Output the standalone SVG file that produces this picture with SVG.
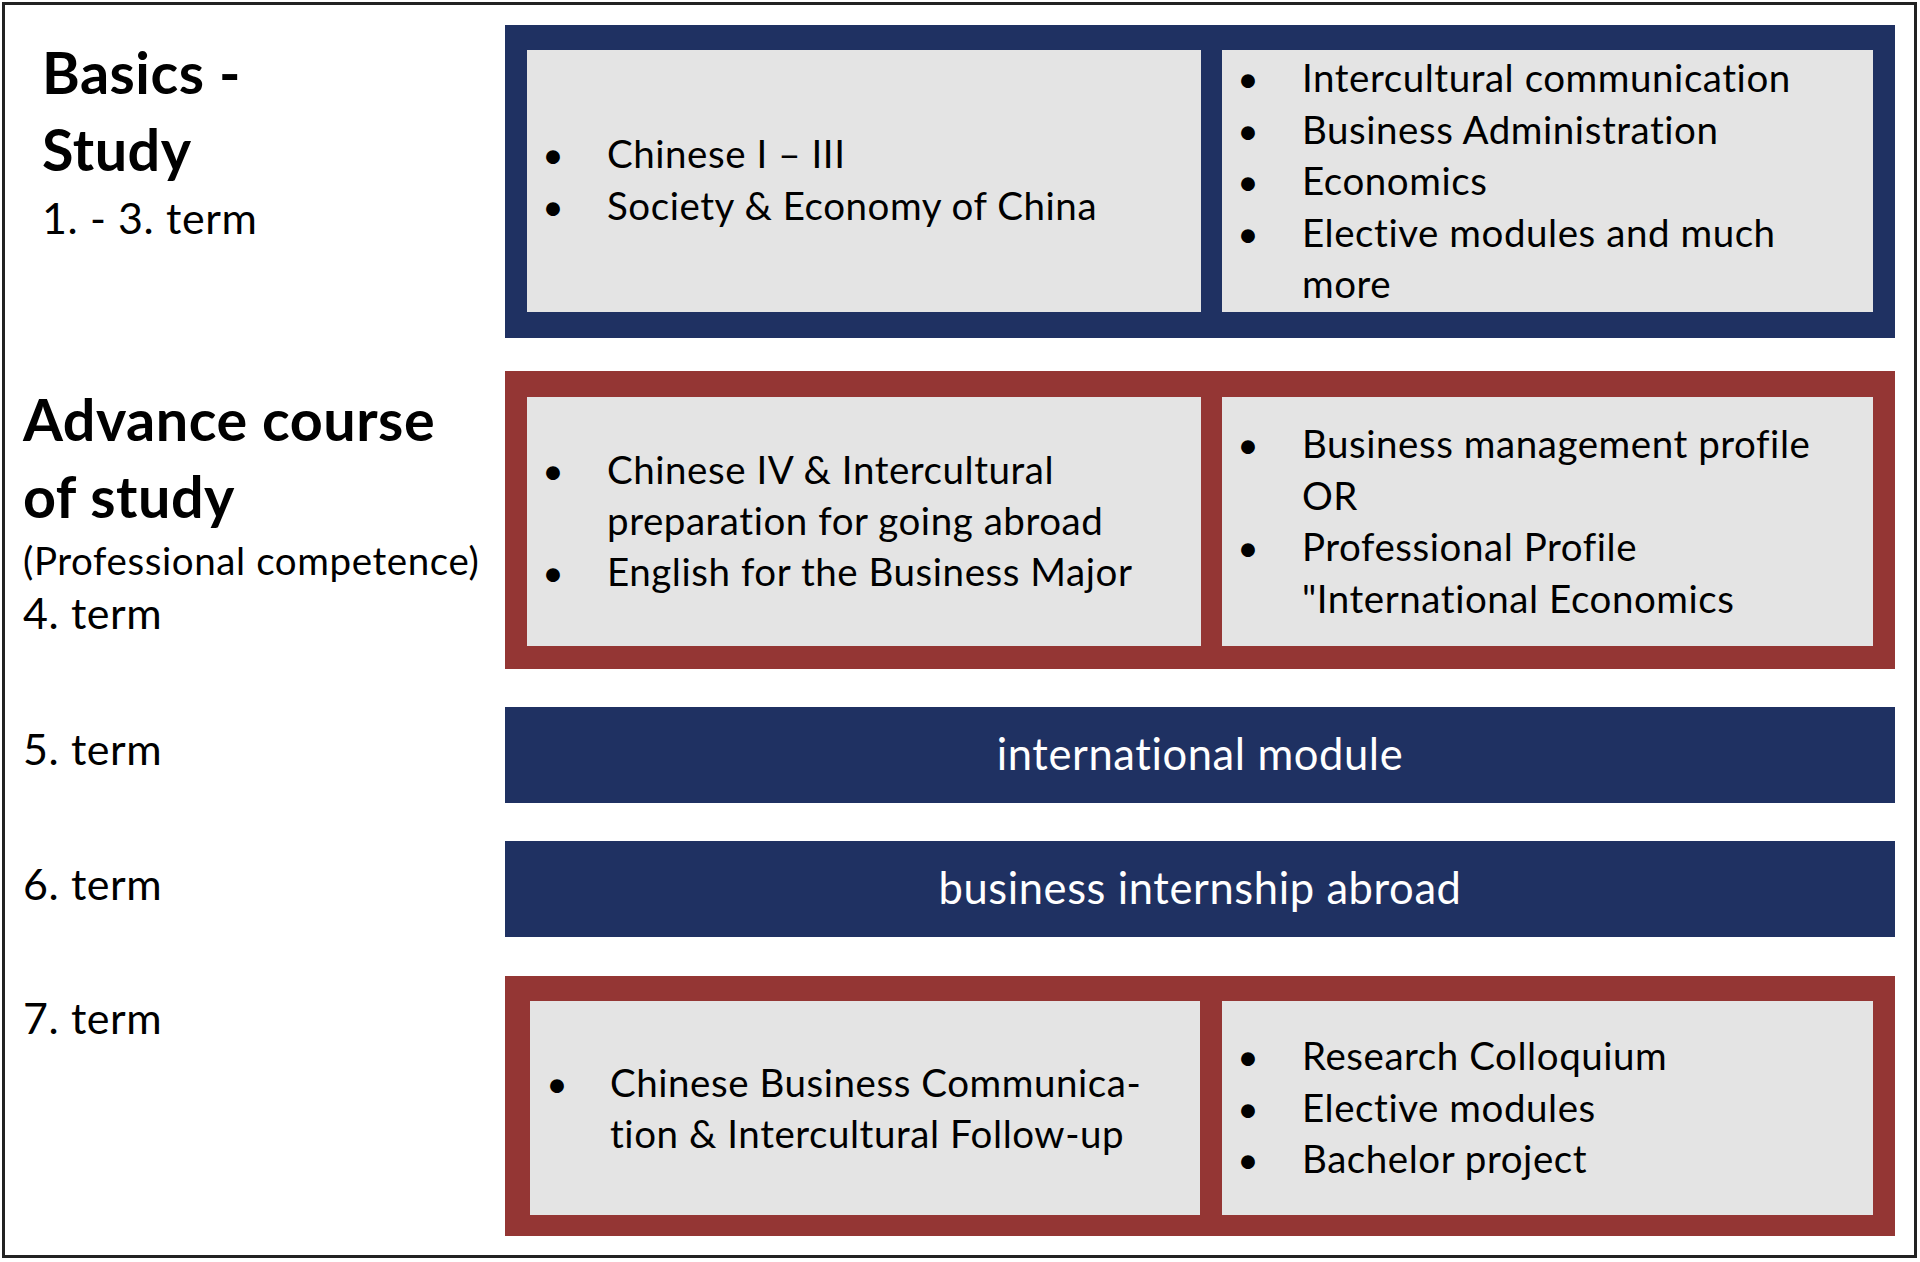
<svg xmlns="http://www.w3.org/2000/svg" width="1920" height="1262" viewBox="0 0 1920 1262">
<style>
.t{font-family:Lato,"Open Sans","Liberation Sans",sans-serif;fill:#000;font-variant-ligatures:none;font-feature-settings:"liga" 0,"clig" 0}
.body{font-size:38.5px;letter-spacing:0.55px}
.title{font-size:57.5px;font-weight:bold;letter-spacing:0.5px}
.term{font-size:43px;letter-spacing:0.6px}
.sub{font-size:38.5px;letter-spacing:0.6px}
.bar{font-size:43.5px;fill:#fff;text-anchor:middle;letter-spacing:0.6px}
.bul{font-size:37px;text-anchor:middle}
.blue{fill:#1F3162}
.red{fill:#943634}
.grey{fill:#E4E4E4}
</style>
<rect x="0" y="0" width="1920" height="1262" fill="#fff"/>
<rect x="3.5" y="3.5" width="1912" height="1253" fill="none" stroke="#222" stroke-width="3"/>

<g id="labels">
  <g id="label-basics">
    <text class="t title" x="42" y="94">Basics -</text>
    <text class="t title" x="42" y="171">Study</text>
    <text class="t term" x="42" y="234">1. - 3. term</text>
  </g>
  <g id="label-advance">
    <text class="t title" x="23" y="441">Advance course</text>
    <text class="t title" x="23" y="518">of study</text>
    <text class="t sub" x="23" y="575">(Professional competence)</text>
    <text class="t term" x="23" y="629">4. term</text>
  </g>
  <g id="label-term5"><text class="t term" x="23" y="765">5. term</text></g>
  <g id="label-term6"><text class="t term" x="23" y="900">6. term</text></g>
  <g id="label-term7"><text class="t term" x="23" y="1034">7. term</text></g>
</g>

<g id="block-basics">
  <rect class="blue" x="505" y="25" width="1390" height="313"/>
  <rect class="grey" x="527" y="50" width="674" height="262"/>
  <rect class="grey" x="1222" y="50" width="651" height="262"/>
  <text class="t bul" x="553" y="168">•</text>
  <text class="t body" x="607" y="168">Chinese I – III</text>
  <text class="t bul" x="553" y="220">•</text>
  <text class="t body" x="607" y="220">Society &amp; Economy of China</text>
  <text class="t bul" x="1248" y="92">•</text>
  <text class="t body" x="1302" y="92">Intercultural communication</text>
  <text class="t bul" x="1248" y="143.5">•</text>
  <text class="t body" x="1302" y="143.5">Business Administration</text>
  <text class="t bul" x="1248" y="195">•</text>
  <text class="t body" x="1302" y="195">Economics</text>
  <text class="t bul" x="1248" y="246.5">•</text>
  <text class="t body" x="1302" y="246.5">Elective modules and much</text>
  <text class="t body" x="1302" y="298">more</text>
</g>

<g id="block-advance">
  <rect class="red" x="505" y="371" width="1390" height="298"/>
  <rect class="grey" x="527" y="397" width="674" height="249"/>
  <rect class="grey" x="1222" y="397" width="651" height="249"/>
  <text class="t bul" x="553" y="484">•</text>
  <text class="t body" x="607" y="484">Chinese IV &amp; Intercultural</text>
  <text class="t body" x="607" y="535">preparation for going abroad</text>
  <text class="t bul" x="553" y="586">•</text>
  <text class="t body" x="607" y="586">English for the Business Major</text>
  <text class="t bul" x="1248" y="458">•</text>
  <text class="t body" x="1302" y="458">Business management profile</text>
  <text class="t body" x="1302" y="509.5">OR</text>
  <text class="t bul" x="1248" y="561">•</text>
  <text class="t body" x="1302" y="561">Professional Profile</text>
  <text class="t body" x="1302" y="612.5">"International Economics</text>
</g>

<g id="bar-international">
  <rect class="blue" x="505" y="707" width="1390" height="96"/>
  <text class="t bar" x="1200" y="770">international module</text>
</g>

<g id="bar-internship">
  <rect class="blue" x="505" y="841" width="1390" height="96"/>
  <text class="t bar" x="1200" y="904">business internship abroad</text>
</g>

<g id="block-final">
  <rect class="red" x="505" y="976" width="1390" height="260"/>
  <rect class="grey" x="530" y="1001" width="670" height="214"/>
  <rect class="grey" x="1222" y="1001" width="651" height="214"/>
  <text class="t bul" x="557" y="1097">•</text>
  <text class="t body" x="610" y="1097">Chinese Business Communica-</text>
  <text class="t body" x="610" y="1148">tion &amp; Intercultural Follow-up</text>
  <text class="t bul" x="1248" y="1070">•</text>
  <text class="t body" x="1302" y="1070">Research Colloquium</text>
  <text class="t bul" x="1248" y="1121.5">•</text>
  <text class="t body" x="1302" y="1121.5">Elective modules</text>
  <text class="t bul" x="1248" y="1173">•</text>
  <text class="t body" x="1302" y="1173">Bachelor project</text>
</g>

<g id="connectors"/>
</svg>
